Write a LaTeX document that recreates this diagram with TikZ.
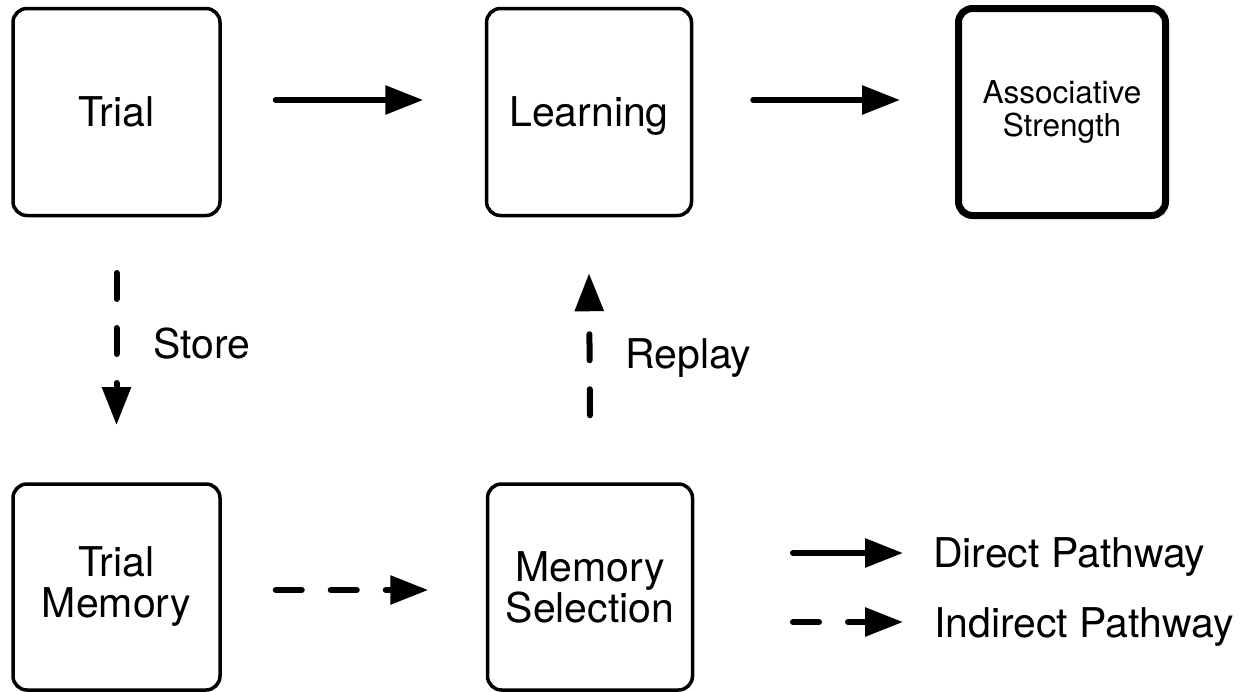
\documentclass[tikz,border=0pt]{standalone}
\usepackage{fontspec}
\setmainfont{TeX Gyre Heros}
\usetikzlibrary{arrows.meta}
\tikzset{
  box/.style={draw=black, line width=3.5pt, rounded corners=14pt, fill=white,
    minimum width=206pt, minimum height=207pt, inner sep=0pt, align=center,
    font=\fontsize{41}{41}\selectfont},
  strongbox/.style={box, line width=7pt, font=\fontsize{31.5}{33}\selectfont},
  lbl/.style={inner sep=0pt, anchor=base west, font=\fontsize{41}{41}\selectfont},
  tip/.style={-{Triangle[length=38pt,width=28pt]}},
  direct/.style={tip, line width=6pt, line cap=round},
  indirect/.style={tip, line width=6pt, line cap=round, dash pattern=on 26pt off 29pt},
}
\begin{document}
\begin{tikzpicture}[x=1pt,y=-1pt]
\useasboundingbox (0,0) rectangle (1248,691);
% boxes
\node[box, minimum width=207pt, text depth=0pt] (trial) at (116.5,112) {Trial};
\node[box, minimum width=205pt, text depth=0pt] (learn) at (589,112) {Learning};
\node[strongbox, minimum width=207pt] (assoc) at (1062,112) {Associative\\Strength};
\node[box, minimum width=207pt, minimum height=206pt] (tmem) at (116.5,587) {Trial\\Memory};
\node[box, minimum width=205pt, minimum height=206pt] (msel) at (590,587) {Memory\\Selection};
% direct arrows
\draw[direct] ([shift={(54,-12)}]trial.east) -- ([shift={(-61.5,-12)}]learn.west);
\draw[direct] ([shift={(60,-12)}]learn.east) -- ([shift={(-55,-12)}]assoc.west);
% indirect arrows
\draw[indirect] ([shift={(0,55.75)}]trial.south) -- ([shift={(0,-57.25)}]tmem.north);
\node[lbl] (store) at (153,358) {Store};
\draw[indirect] ([shift={(0,-67)}]msel.north) -- ([shift={(0,56)}]learn.south);
\node[lbl] (replay) at (625,368) {Replay};
\draw[indirect] ([shift={(54,3)}]tmem.east) -- ([shift={(-57.5,3)}]msel.west);
% legend
\coordinate (d1) at (793,553);
\coordinate (d2) at (903,553);
\coordinate (i1) at (793,622);
\coordinate (i2) at (903,622);
\draw[direct] (d1) -- (d2);
\draw[indirect] (i1) -- (i2);
\node[lbl] (ldirect) at (933,567) {Direct Pathway};
\node[lbl] (lindirect) at (934,637) {Indirect Pathway};
\end{tikzpicture}
\end{document}
